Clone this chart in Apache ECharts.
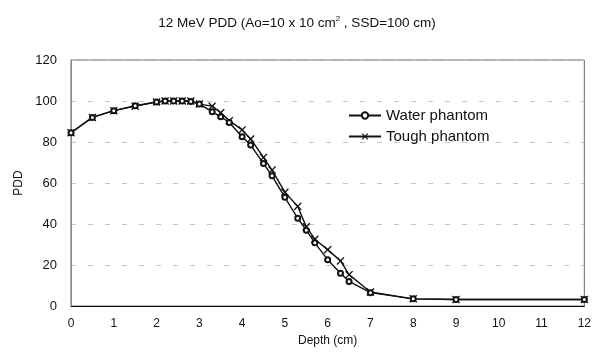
<!DOCTYPE html>
<html>
<head>
<meta charset="utf-8">
<script src="https://cdn.jsdelivr.net/npm/echarts@6/dist/echarts.min.js"></script>
<style>
  html, body { margin: 0; padding: 0; background: #fff; }
  #chart { width: 594px; height: 353px; }
</style>
</head>
<body>
<div id="chart"></div>
<script>
// depth (cm)
const depth = [0, 0.5, 1, 1.5, 2, 2.2, 2.4, 2.6, 2.8, 3, 3.3, 3.5, 3.7, 4, 4.2, 4.5, 4.7, 5, 5.3, 5.5, 5.7, 6, 6.3, 6.5, 7, 8, 9, 12];
const water = [84.5, 92, 95.3, 97.7, 99.5, 100, 100, 100, 99.8, 98.5, 94.8, 92.3, 89.5, 82.6, 78.5, 69.5, 63.5, 53, 42.8, 37, 30.8, 22.6, 16, 12, 6.5, 3.5, 3.2, 3.2];
const tough = [84.5, 92, 95.3, 97.5, 99.5, 100, 100, 100, 100, 98.5, 97.5, 94.3, 90.4, 85.9, 81.5, 72.5, 66.3, 55.5, 48.6, 38.7, 32.6, 27.5, 22, 15.3, 6.8, 3.5, 3.2, 3.2];
const xTicks = [0, 1, 2, 3, 4, 5, 6, 7, 8, 9, 10, 11, 12];
const yTicks = [0, 20, 40, 60, 80, 100, 120];

const font = "'Liberation Sans', Arial, sans-serif";
const cross = "path://M0,1.2L1.2,0L5,3.8L8.8,0L10,1.2L6.2,5L10,8.8L8.8,10L5,6.2L1.2,10L0,8.8L3.8,5Z";

const pairs = (ys) => depth.map((d, i) => [d, ys[i]]);

const chart = echarts.init(document.getElementById("chart"));

chart.setOption({
  animation: false,
  backgroundColor: "#fff",
  title: {
    text: "12 MeV PDD (Ao=10 x 10 cm{sup|2} , SSD=100 cm)",
    left: "center",
    top: 10,
    textStyle: {
      fontFamily: font,
      fontSize: 13.5,
      fontWeight: "normal",
      color: "#111",
      rich: {
        sup: { fontSize: 8, verticalAlign: "top", padding: [0, 0, 8, 0], fontFamily: font, color: "#111" },
      },
    },
  },
  legend: {
    orient: "vertical",
    left: 343,
    top: 103,
    itemWidth: 32,
    itemHeight: 8,
    itemGap: 6,
    textStyle: { fontFamily: font, fontSize: 15, color: "#111" },
    data: ["Water phantom", "Tough phantom"],
  },
  grid: { left: 71, right: 8, top: 60, bottom: 47, show: true, borderColor: "#666", borderWidth: 1 },
  xAxis: {
    type: "value",
    min: 0,
    max: 12,
    interval: 1,
    name: "Depth (cm)",
    nameLocation: "middle",
    nameGap: 27,
    nameTextStyle: { fontFamily: font, fontSize: 12, color: "#111" },
    axisLine: { lineStyle: { color: "#111", width: 1.2 } },
    axisTick: { show: false },
    axisLabel: {
      fontFamily: font,
      fontSize: 12,
      color: "#111",
      margin: 12,
      formatter: (v) => (xTicks.includes(v) ? String(v) : ""),
    },
    splitLine: { show: false },
  },
  yAxis: {
    type: "value",
    min: 0,
    max: 120,
    interval: 20,
    name: "PDD",
    nameLocation: "middle",
    nameGap: 42,
    nameTextStyle: { fontFamily: font, fontSize: 12, color: "#111" },
    axisLine: { show: true, lineStyle: { color: "#888" } },
    axisTick: { show: false },
    axisLabel: {
      fontFamily: font,
      fontSize: 13,
      color: "#111",
      margin: 14,
      formatter: (v) => (yTicks.includes(v) ? String(v) : ""),
    },
    splitLine: { show: true, lineStyle: { color: "#c4c4c4", type: [5, 12], width: 1 } },
  },
  series: [
    {
      name: "Water phantom",
      type: "line",
      data: pairs(water),
      symbol: "emptyCircle",
      symbolSize: 5,
      lineStyle: { color: "#111", width: 1.4 },
      itemStyle: { color: "#111", borderColor: "#111", borderWidth: 0.9 },
      z: 3,
    },
    {
      name: "Tough phantom",
      type: "line",
      data: pairs(tough),
      symbol: cross,
      symbolSize: 8,
      lineStyle: { color: "#111", width: 1.4 },
      itemStyle: { color: "#111" },
      z: 2,
    },
  ],
});
</script>
</body>
</html>
